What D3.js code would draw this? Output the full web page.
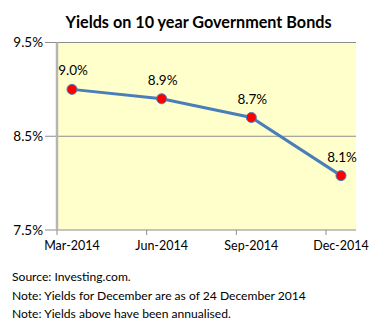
<!DOCTYPE html>
<html><head><meta charset="utf-8">
<script src="https://cdn.jsdelivr.net/npm/d3@7"></script>
<style>body{margin:0;background:#fff}svg{display:block}text{font-family:Lato,"Open Sans",sans-serif;fill:#000}</style>
</head><body>
<script>
const categories = ["Mar-2014","Jun-2014","Sep-2014","Dec-2014"];
const yields = [9.0, 8.9, 8.7, 8.08];
const valueLabels = ["9.0%","8.9%","8.7%","8.1%"];
const yTicks = [7.5, 8.5, 9.5];
const title = "Yields on 10 year Government Bonds";
const notes = ["Source: Investing.com.","Note: Yields for December are as of 24 December 2014","Note: Yields above have been annualised."];

const W=379,H=325;
const svg=d3.select("body").append("svg").attr("width",W).attr("height",H);
const L=57,R=356,T=42.5,B=230;
const y=d3.scaleLinear().domain([7.5,9.5]).range([B,T]);
const x=d3.scalePoint().domain(categories).range([L+15,R-15]);
const bandStart = c => x(c)-15;

svg.append("rect").attr("x",L).attr("y",T).attr("width",R-L).attr("height",B-T).attr("fill","#FFFFCC");
svg.append("g").selectAll("line").data(yTicks).join("line")
  .attr("x1",L-12).attr("x2",R).attr("y1",d=>y(d)).attr("y2",d=>y(d))
  .attr("stroke","#8c8c8c").attr("stroke-width",1);
svg.append("line").attr("x1",L).attr("x2",L).attr("y1",T).attr("y2",B).attr("stroke","#b5b5b5").attr("stroke-width",2.5);
svg.append("g").selectAll("text").data(yTicks).join("text")
  .attr("x",L-14).attr("y",d=>y(d)+4.5).attr("text-anchor","end").attr("font-size",13.5)
  .text(d=>d.toFixed(1)+"%");
svg.append("g").selectAll("line").data(categories.slice(1)).join("line")
  .attr("x1",d=>bandStart(d)).attr("x2",d=>bandStart(d)).attr("y1",B).attr("y2",B+5)
  .attr("stroke","#8c8c8c");
svg.append("line").attr("x1",L).attr("x2",L).attr("y1",B).attr("y2",B+5).attr("stroke","#8c8c8c");
svg.append("g").selectAll("text").data(categories).join("text")
  .attr("x",d=>x(d)).attr("y",B+20).attr("text-anchor","middle").attr("font-size",12.5)
  .text(d=>d);
const pts=categories.map((c,i)=>[x(c),y(yields[i])]);
svg.append("path").attr("d",d3.line()(pts)).attr("fill","none").attr("stroke","#4A7EBB").attr("stroke-width",3);
svg.append("g").selectAll("circle").data(pts).join("circle")
  .attr("cx",d=>d[0]).attr("cy",d=>d[1]).attr("r",5)
  .attr("fill","#FF0000").attr("stroke","#4A7EBB").attr("stroke-width",1);
svg.append("g").selectAll("text").data(pts).join("text")
  .attr("x",d=>d[0]+1).attr("y",d=>d[1]-14).attr("text-anchor","middle").attr("font-size",13.5)
  .text((d,i)=>valueLabels[i]);
svg.append("text").attr("x",(65+332)/2).attr("y",28).attr("text-anchor","middle")
  .attr("font-size",16.2).attr("font-weight","bold").text(title);
svg.append("g").selectAll("text").data(notes).join("text")
  .attr("x",12).attr("y",(d,i)=>281+i*18.5).attr("font-size",12.1).text(d=>d);
</script>
</body></html>
